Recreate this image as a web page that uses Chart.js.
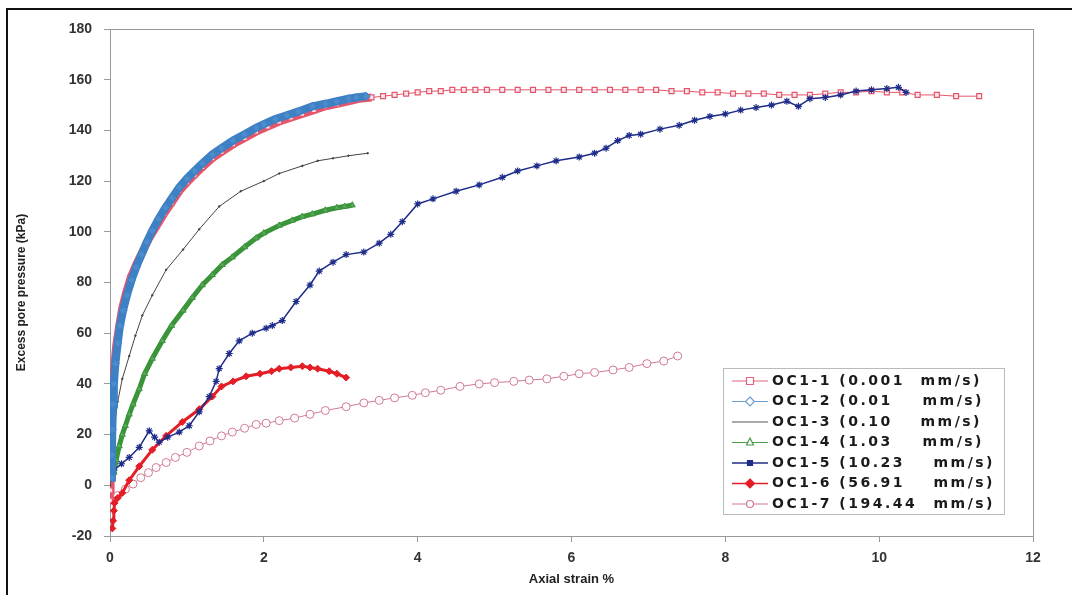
<!DOCTYPE html>
<html>
<head>
<meta charset="utf-8">
<title>Excess pore pressure vs axial strain</title>
<script src="https://cdn.jsdelivr.net/npm/chart.js@4.4.1/dist/chart.umd.min.js"></script>
<style>
    html, body { margin: 0; padding: 0; background: #fff; }
    .frame {
        position: absolute; left: 6px; top: 8px; width: 1100px; height: 700px;
        border-left: 2px solid #111; border-top: 2px solid #111;
    }
    .wrap { position: absolute; left: 0; top: 0; width: 1072px; height: 595px; }
</style>
</head>
<body>
<div class="frame"></div>
<div class="wrap"><canvas id="chart" width="1072" height="595"></canvas></div>
<script>
// Series labels (legend)
const seriesLabels = [
    'OC1-1 (0.001 mm/s)',
    'OC1-2 (0.01 mm/s)',
    'OC1-3 (0.10 mm/s)',
    'OC1-4 (1.03 mm/s)',
    'OC1-5 (10.23 mm/s)',
    'OC1-6 (56.91 mm/s)',
    'OC1-7 (194.44 mm/s)'
];

// Tick values
const xTicks = [0, 2, 4, 6, 8, 10, 12];
const yTicks = [-20, 0, 20, 40, 60, 80, 100, 120, 140, 160, 180];

// OC1-1 (0.001 mm/s)
const strain1 = [0, 0.005, 0.01, 0.015, 0.02, 0.03, 0.05, 0.08, 0.12, 0.16, 0.21, 0.27, 0.34, 0.42, 0.5, 0.6, 0.7, 0.8, 0.9, 1.0,
    1.1, 1.2, 1.33, 1.45, 1.6, 1.75, 1.9, 2.05, 2.2, 2.35, 2.5, 2.65, 2.8, 2.95, 3.1, 3.25, 3.4, 3.55, 3.7, 3.85,
    4.0, 4.15, 4.3, 4.45, 4.6, 4.75, 4.9, 5.1, 5.3, 5.5, 5.7, 5.9, 6.1, 6.3, 6.5, 6.7, 6.9, 7.1, 7.3, 7.5,
    7.7, 7.9, 8.1, 8.3, 8.5, 8.7, 8.9, 9.1, 9.3, 9.5, 9.7, 9.9, 10.1, 10.3, 10.5, 10.75, 11.0, 11.3];
const pp1 = [-6, -2, 5, 15, 25, 35, 45, 55, 63, 70, 76, 82, 87, 92, 97, 102, 107, 111.5, 116, 119.5,
    122.5, 125.5, 129, 131.5, 134.5, 137, 139.5, 141.5, 143.5, 145, 146.5, 148, 149.5, 150.5, 151.5, 152.5, 153, 153.5, 154, 154.5,
    155, 155.5, 155.5, 156, 156, 156, 156, 156, 156, 156, 156, 156, 156, 156, 156, 156, 156, 156, 155.5, 155.5,
    155, 155, 154.5, 154.5, 154.5, 154, 154, 154, 154.5, 155, 155, 155.5, 155, 155, 154, 154, 153.5, 153.5];

// OC1-2 (0.01 mm/s)
const strain2 = [0.02, 0.025, 0.03, 0.04, 0.05, 0.07, 0.1, 0.13, 0.17, 0.22, 0.28, 0.34, 0.41, 0.48, 0.55, 0.63, 0.72, 0.81, 0.9, 1.0,
    1.1, 1.2, 1.33, 1.45, 1.6, 1.75, 1.9, 2.0, 2.15, 2.3, 2.45, 2.63, 2.8, 2.95, 3.1, 3.2, 3.33];
const pp2 = [3, 12, 22, 32, 40, 48, 56, 63, 69, 75, 81, 86, 91, 96, 100.5, 105, 109.5, 113.5, 117.5, 121,
    124, 127, 130.5, 133, 136, 138.5, 141, 142.5, 144.5, 146, 147.5, 149.5, 150.5, 151.5, 152.5, 153, 153.5];

// OC1-3 (0.10 mm/s)
const strain3 = [0, 0.03, 0.06, 0.1, 0.16, 0.25, 0.33, 0.42, 0.55, 0.73, 0.95, 1.16, 1.42, 1.7, 2.0, 2.2, 2.5, 2.7, 2.9, 3.1, 3.35];
const pp3 = [0, 12, 24, 33, 42, 51, 59, 67, 75, 85, 93, 101, 110, 116, 120, 123, 126, 128, 129, 130, 131];

// OC1-4 (1.03 mm/s)
const strain4 = [0.05, 0.08, 0.12, 0.16, 0.2, 0.25, 0.3, 0.38, 0.45, 0.55, 0.68, 0.8, 0.95, 1.07, 1.2, 1.33, 1.46, 1.59, 1.75, 1.9,
    2.0, 2.2, 2.37, 2.5, 2.63, 2.8, 2.95, 3.05, 3.15];
const pp4 = [5, 10, 15.5, 20, 23.5, 28, 32, 38, 44, 50, 57, 63, 69, 74, 79, 83, 87, 90, 94, 97.5,
    99.5, 102.5, 104.5, 106, 107, 108.5, 109.5, 110, 110.5];

// OC1-5 (10.23 mm/s)
const strain5 = [0.05, 0.15, 0.25, 0.38, 0.51, 0.58, 0.64, 0.75, 0.9, 1.03, 1.16, 1.29, 1.38, 1.42, 1.55, 1.68, 1.85, 2.03, 2.11, 2.24,
    2.42, 2.6, 2.72, 2.9, 3.07, 3.3, 3.5, 3.65, 3.8, 4.0, 4.2, 4.5, 4.8, 5.1, 5.3, 5.55, 5.8, 6.1, 6.3, 6.45,
    6.6, 6.75, 6.9, 7.15, 7.4, 7.6, 7.8, 8.0, 8.2, 8.4, 8.6, 8.8, 8.95, 9.1, 9.3, 9.5, 9.7, 9.9, 10.1, 10.25, 10.35];
const pp5 = [6, 8.5, 11, 15, 21.5, 19, 17, 19, 21, 23.5, 29, 35, 41, 46, 52, 57, 60, 62, 63, 65,
    72.5, 79, 84.5, 88, 91, 92, 95.5, 99, 104, 111, 113, 116, 118.5, 121.5, 124, 126, 128, 129.5, 131, 133,
    136, 138, 138.5, 140.5, 142, 144, 145.5, 146.5, 148, 149, 150, 151.5, 149.5, 152.5, 153, 154, 155.5, 156, 156.5, 157, 155];

// OC1-6 (56.91 mm/s)
const strain6 = [0.03, 0.04, 0.05, 0.06, 0.1, 0.16, 0.25, 0.38, 0.55, 0.73, 0.94, 1.16, 1.33, 1.45, 1.6, 1.77, 1.95, 2.1, 2.2, 2.35,
    2.5, 2.6, 2.7, 2.85, 2.95, 3.07];
const pp6 = [-17, -14, -10, -7, -5, -3, 2, 7.5, 14, 19.5, 25, 30, 35, 39, 41, 43, 44, 45, 46, 46.5,
    47, 46.5, 46, 45, 44, 42.5];

// OC1-7 (194.44 mm/s)
const strain7 = [0.1, 0.2, 0.3, 0.4, 0.5, 0.6, 0.73, 0.85, 1.0, 1.16, 1.3, 1.45, 1.59, 1.75, 1.9, 2.03, 2.2, 2.4, 2.6, 2.8,
    3.07, 3.3, 3.5, 3.7, 3.93, 4.1, 4.3, 4.55, 4.8, 5.0, 5.25, 5.45, 5.68, 5.9, 6.1, 6.3, 6.54, 6.75, 6.98, 7.2, 7.38];
const pp7 = [-4, -1.5, 0.5, 3, 5, 7, 9, 11, 13, 15.5, 17.5, 19.5, 21, 22.5, 24, 24.5, 25.5, 26.5, 28, 29.5,
    31, 32.5, 33.5, 34.5, 35.5, 36.5, 37.5, 39, 40, 40.5, 41, 41.5, 42, 43, 44, 44.5, 45.5, 46.5, 48, 49, 51];

const zip = (xs, ys) => xs.map((x, i) => ({ x: x, y: ys[i] }));

const FONT = "'Liberation Sans', Arial, sans-serif";

// legend marker look, one entry per series
const legendMarks = [
    { color: '#e0667a', style: 'rect', fill: '#fff', r: 3.5, line: 1 },
    { color: '#6a9fd0', style: 'rectRot', fill: '#fff', r: 3.5, line: 1 },
    { color: '#555', style: null, fill: null, r: 0, line: 1 },
    { color: '#4a9a4a', style: 'triangle', fill: '#fff', r: 3.5, line: 1 },
    { color: '#1e2c8a', style: 'rectFill', fill: '#1e2c8a', r: 2.5, line: 1.5 },
    { color: '#e41e26', style: 'rectRot', fill: '#e41e26', r: 3.5, line: 1.5 },
    { color: '#d07a92', style: 'circle', fill: '#fff', r: 3.5, line: 1 }
];

function drawMark(ctx, m, x, y) {
    ctx.save();
    ctx.strokeStyle = m.color;
    ctx.fillStyle = m.fill || m.color;
    ctx.lineWidth = 1.2;
    ctx.beginPath();
    if (m.style === 'rect' || m.style === 'rectFill') {
        ctx.rect(x - m.r, y - m.r, m.r * 2, m.r * 2);
    } else if (m.style === 'rectRot') {
        ctx.moveTo(x, y - m.r - 1); ctx.lineTo(x + m.r + 1, y); ctx.lineTo(x, y + m.r + 1); ctx.lineTo(x - m.r - 1, y); ctx.closePath();
    } else if (m.style === 'triangle') {
        ctx.moveTo(x, y - m.r - 1); ctx.lineTo(x + m.r, y + m.r - 1); ctx.lineTo(x - m.r, y + m.r - 1); ctx.closePath();
    } else if (m.style === 'circle') {
        ctx.arc(x, y, m.r, 0, Math.PI * 2);
    }
    if (m.style) { ctx.fill(); ctx.stroke(); }
    ctx.restore();
}

const decorPlugin = {
    id: 'decor',
    beforeDatasetsDraw(chart) {
        const { ctx, chartArea: a } = chart;
        ctx.save();
        ctx.strokeStyle = '#999';
        ctx.lineWidth = 1;
        ctx.strokeRect(Math.round(a.left) + 0.5, Math.round(a.top) + 0.5, Math.round(a.right - a.left), Math.round(a.bottom - a.top));
        ctx.restore();
    },
    afterDraw(chart) {
        const { ctx, chartArea: a } = chart;
        ctx.save();
        // axis titles
        ctx.fillStyle = '#222';
        ctx.textAlign = 'center';
        ctx.textBaseline = 'middle';
        ctx.font = 'bold 13px ' + FONT;
        ctx.fillText('Axial strain %', (a.left + a.right) / 2, 579);
        ctx.translate(22, (a.top + a.bottom) / 2 + 10);
        ctx.rotate(-Math.PI / 2);
        ctx.font = 'bold 12px ' + FONT;
        ctx.fillText('Excess pore pressure (kPa)', 0, 0);
        ctx.restore();

        // legend box
        ctx.save();
        const bx = 723, by = 368, bw = 281, bh = 146;
        ctx.fillStyle = '#fff';
        ctx.fillRect(bx, by, bw, bh);
        ctx.strokeStyle = '#bbb';
        ctx.lineWidth = 1;
        ctx.strokeRect(bx + 0.5, by + 0.5, bw, bh);
        const rowEnds = [982, 984, 982, 984, 995, 995, 995];
        seriesLabels.forEach((label, i) => {
            const y = 381 + i * 20.5;
            const m = legendMarks[i];
            ctx.strokeStyle = m.color;
            ctx.lineWidth = m.line;
            ctx.beginPath();
            ctx.moveTo(732, y);
            ctx.lineTo(768, y);
            ctx.stroke();
            drawMark(ctx, m, 750, y);
            const cut = label.lastIndexOf(' mm/s)');
            const left = label.slice(0, cut);
            const right = label.slice(cut + 1);
            ctx.fillStyle = '#1a1a1a';
            ctx.font = "bold 14px 'DejaVu Sans', sans-serif";
            ctx.textBaseline = 'middle';
            try { ctx.letterSpacing = '2.5px'; } catch (e) {}
            ctx.textAlign = 'left';
            ctx.fillText(left, 772, y);
            ctx.textAlign = 'right';
            ctx.fillText(right, rowEnds[i], y);
        });
        ctx.restore();
    }
};

const tickFont = { family: FONT, size: 14, weight: 'bold' };

new Chart(document.getElementById('chart').getContext('2d'), {
    type: 'scatter',
    data: {
        datasets: [
            {
                label: seriesLabels[0], data: zip(strain1, pp1), order: 7,
                showLine: true, borderColor: '#e4556b',
                segment: { borderWidth: c => (c.p0.parsed.x < 3.3 ? 8 : 1) },
                pointStyle: 'rect', pointRadius: 3.5, pointBorderColor: '#e4556b',
                pointBackgroundColor: 'rgba(255,235,238,0.9)', pointBorderWidth: 1.2
            },
            {
                label: seriesLabels[1], data: zip(strain2, pp2), order: 1,
                showLine: true, borderColor: '#3d80c4', borderWidth: 8,
                pointStyle: 'rectRot', pointRadius: 4, pointBorderColor: '#3d80c4',
                pointBackgroundColor: '#4a8ccc', pointBorderWidth: 1
            },
            {
                label: seriesLabels[2], data: zip(strain3, pp3), order: 5,
                showLine: true, borderColor: '#444', borderWidth: 1,
                pointRadius: 0.8, pointBackgroundColor: '#444', pointBorderColor: '#444'
            },
            {
                label: seriesLabels[3], data: zip(strain4, pp4), order: 4,
                showLine: true, borderColor: '#3a943a', borderWidth: 5,
                pointStyle: 'triangle', pointRadius: 3.5, pointBorderColor: '#3a943a',
                pointBackgroundColor: '#5aa85a', pointBorderWidth: 1
            },
            {
                label: seriesLabels[4], data: zip(strain5, pp5), order: 2,
                showLine: true, borderColor: '#1e2c8a', borderWidth: 1.5,
                pointStyle: 'star', pointRadius: 3.5, pointBorderColor: '#1e2c8a',
                pointBorderWidth: 1.2
            },
            {
                label: seriesLabels[5], data: zip(strain6, pp6), order: 3,
                showLine: true, borderColor: '#e41e26', borderWidth: 3,
                pointStyle: 'rectRot', pointRadius: 3.5, pointBorderColor: '#e41e26',
                pointBackgroundColor: '#e41e26', pointBorderWidth: 1
            },
            {
                label: seriesLabels[6], data: zip(strain7, pp7), order: 6,
                showLine: true, borderColor: '#d07a92', borderWidth: 1,
                pointStyle: 'circle', pointRadius: 4, pointBorderColor: '#d07a92',
                pointBackgroundColor: 'rgba(255,255,255,0.9)', pointBorderWidth: 1
            }
        ]
    },
    options: {
        responsive: false,
        animation: false,
        layout: { padding: { top: 29, right: 39, left: 0, bottom: 0 } },
        plugins: {
            legend: { display: false },
            tooltip: { enabled: false }
        },
        scales: {
            x: {
                type: 'linear', min: 0, max: 12,
                afterBuildTicks: s => { s.ticks = xTicks.map(v => ({ value: v })); },
                afterFit: s => { s.height = 59; },
                grid: { drawOnChartArea: false, drawTicks: true, tickLength: 6, color: '#999' },
                border: { display: true, color: '#999' },
                ticks: { color: '#333', font: tickFont, padding: 8 }
            },
            y: {
                type: 'linear', min: -20, max: 180,
                afterBuildTicks: s => { s.ticks = yTicks.map(v => ({ value: v })); },
                afterFit: s => { s.width = 110; },
                grid: { drawOnChartArea: false, drawTicks: true, tickLength: 6, color: '#999' },
                border: { display: true, color: '#999' },
                ticks: { color: '#333', font: tickFont, padding: 12 }
            }
        }
    },
    plugins: [decorPlugin]
});
</script>
</body>
</html>
